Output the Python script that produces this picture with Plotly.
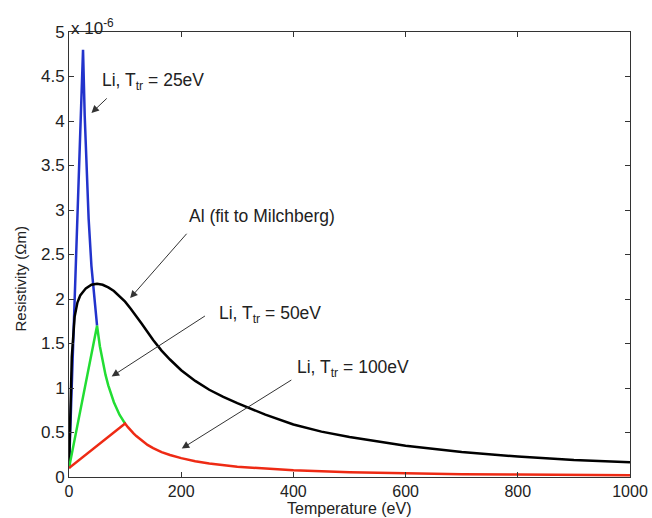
import plotly.graph_objects as go

# Temperature (eV) and resistivity (units of 1e-6 Ohm m)
T_li25 = [0, 25, 28, 31, 35, 40, 45, 50]
R_li25 = [0.1, 4.8, 4.06, 3.52, 2.90, 2.37, 1.99, 1.70]

T_li50 = [0, 50, 55, 60, 65, 70, 80, 90, 100]
R_li50 = [0.1, 1.70, 1.47, 1.29, 1.15, 1.03, 0.84, 0.70, 0.60]

T_li100 = [0, 100, 105, 110, 115, 120, 130, 140, 150, 165, 180, 200, 225, 250, 300, 350, 400, 500, 600, 700, 800, 900, 1000]
R_li100 = [0.1, 0.60, 0.56, 0.52, 0.49, 0.46, 0.405, 0.36, 0.325, 0.28, 0.247, 0.212, 0.178, 0.152, 0.115, 0.092, 0.075, 0.054, 0.041, 0.032, 0.027, 0.022, 0.019]

T_al = [0, 2, 5, 10, 15, 20, 30, 40, 50, 60, 70, 80, 90, 100, 110, 120, 130, 140, 150, 165, 180, 200, 225, 250, 275, 300, 350, 400, 450, 500, 600, 700, 800, 900, 1000]
R_al = [0.1, 0.75, 1.35, 1.80, 1.96, 2.04, 2.12, 2.16, 2.17, 2.16, 2.13, 2.09, 2.03, 1.97, 1.89, 1.81, 1.72, 1.63, 1.54, 1.42, 1.32, 1.20, 1.08, 0.98, 0.90, 0.83, 0.70, 0.59, 0.51, 0.45, 0.35, 0.28, 0.23, 0.19, 0.165]

x_ticks = [0, 200, 400, 600, 800, 1000]
y_ticks = [0, 0.5, 1, 1.5, 2, 2.5, 3, 3.5, 4, 4.5, 5]
y_ticklabels = ["0", "0.5", "1", "1.5", "2", "2.5", "3", "3.5", "4", "4.5", "5"]

FONT = "Liberation Sans, Arial, Helvetica, sans-serif"
TXT = "#222222"

fig = go.Figure()
fig.add_trace(go.Scatter(x=T_li25, y=R_li25, mode="lines", line=dict(color="#2233cc", width=2.5)))
fig.add_trace(go.Scatter(x=T_al, y=R_al, mode="lines", line=dict(color="black", width=2.5)))
fig.add_trace(go.Scatter(x=T_li50, y=R_li50, mode="lines", line=dict(color="#22dd33", width=2.5)))
fig.add_trace(go.Scatter(x=T_li100, y=R_li100, mode="lines", line=dict(color="#ee2a14", width=2.5)))

# arrows: (tail_x, tail_y, head_x, head_y) in data coords
arrows = [
    (70, 4.27, 40, 4.09),
    (212, 2.75, 109, 2.01),
    (245, 1.82, 76, 1.13),
    (399, 1.10, 201, 0.32),
]
for tx, ty, hx, hy in arrows:
    fig.add_annotation(x=hx, y=hy, ax=tx, ay=ty, xref="x", yref="y", axref="x", ayref="y",
                       text="", showarrow=True, arrowhead=2, arrowsize=1.5, arrowwidth=1,
                       arrowcolor="#333333")

labels = [
    (55, 4.44, "Li, T<sub>tr</sub> = 25eV"),
    (211, 2.93, "Al (fit to Milchberg)"),
    (263, 1.83, "Li, T<sub>tr</sub> = 50eV"),
    (402, 1.22, "Li, T<sub>tr</sub> = 100eV"),
]
for x, y, t in labels:
    fig.add_annotation(x=x, y=y, xref="x", yref="y", text=t, showarrow=False,
                       xanchor="left", yanchor="middle", font=dict(size=17.5, color=TXT, family=FONT))

fig.add_annotation(x=0, y=1, xref="paper", yref="paper", text="x 10<sup>-6</sup>", showarrow=False,
                   xanchor="left", yanchor="bottom", yshift=-8, font=dict(size=17, color=TXT, family=FONT))

# axis titles as annotations for exact placement
fig.add_annotation(x=0.5, y=0, xref="paper", yref="paper", text="Temperature (eV)", showarrow=False,
                   xanchor="center", yanchor="bottom", yshift=-41, borderpad=0,
                   font=dict(size=16, color=TXT, family=FONT))
fig.add_annotation(x=0, y=0.5, xref="paper", yref="paper", text="Resistivity (\u03a9m)", showarrow=False,
                   textangle=-90, xanchor="center", yanchor="middle", xshift=-49, yshift=-25,
                   font=dict(size=15, color=TXT, family=FONT))

fig.update_layout(
    width=652, height=518,
    margin=dict(l=69, r=22, t=32, b=41),
    paper_bgcolor="white", plot_bgcolor="white",
    showlegend=False,
    font=dict(family=FONT, size=16, color=TXT),
)
fig.update_xaxes(range=[0, 1000], tickvals=x_ticks, ticks="inside", ticklen=5, tickcolor="#333333",
                 showline=True, linecolor="#333333", linewidth=1, mirror="ticks", showgrid=False,
                 zeroline=False, automargin=False, tickfont=dict(size=16, color=TXT, family=FONT))
fig.update_yaxes(range=[0, 5], tickvals=y_ticks, ticktext=y_ticklabels, ticks="inside", ticklen=5,
                 tickcolor="#333333", showline=True, linecolor="#333333", linewidth=1, mirror="ticks",
                 showgrid=False, zeroline=False, automargin=False,
                 tickfont=dict(size=17, color=TXT, family=FONT))

fig.write_html("out.html")
